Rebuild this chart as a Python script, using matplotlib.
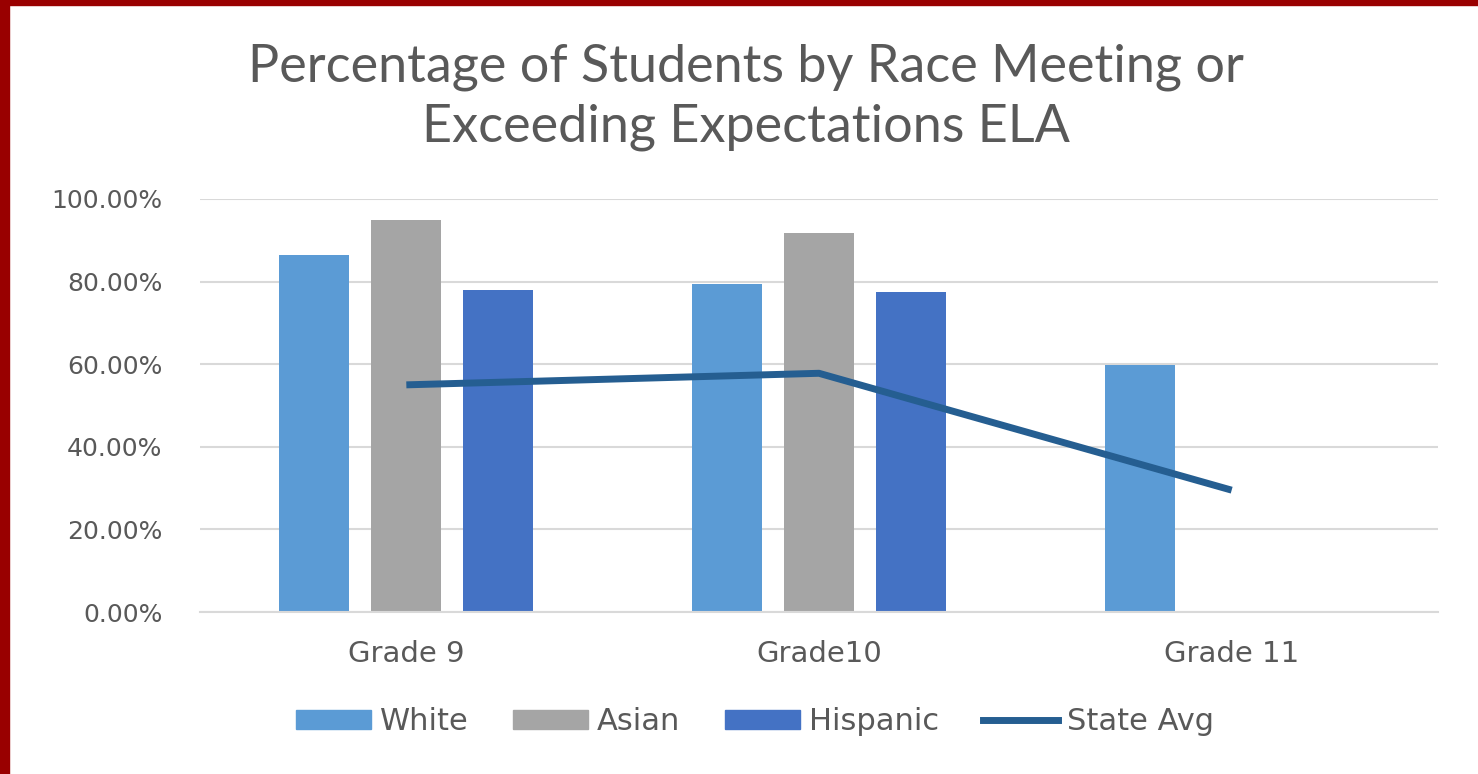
import numpy as np
import matplotlib
matplotlib.use("Agg")
from matplotlib import pyplot as plt
from matplotlib.patches import Rectangle, Patch
from matplotlib.lines import Line2D

grades = ["Grade 9", "Grade10", "Grade 11"]
white = [0.864, 0.794, 0.598]
asian = [0.949, 0.918, np.nan]
hispanic = [0.780, 0.775, np.nan]
state_avg = [0.550, 0.578, 0.295]

c_white = "#5B9BD5"
c_asian = "#A5A5A5"
c_hisp = "#4472C4"
c_line = "#255E91"
txt = "#595959"

plt.rcParams['font.family'] = ['DejaVu Sans']

fig = plt.figure(figsize=(14.78, 7.74), dpi=100)
fig.patch.set_facecolor("white")

# dark red frame on left and top
fig.patches.append(Rectangle((0, 0), 9 / 1478, 1, transform=fig.transFigure,
                             color="#990000", zorder=0))
fig.patches.append(Rectangle((0, 1 - 5 / 774), 1, 5 / 774, transform=fig.transFigure,
                             color="#990000", zorder=0))

ax = fig.add_axes([200 / 1478, 162 / 774, 1238 / 1478, 413 / 774])
x = np.arange(len(grades))
w = 0.17
step = 0.223
ax.bar(x - step, white, w, color=c_white, zorder=2)
ax.bar(x, asian, w, color=c_asian, zorder=2)
ax.bar(x + step, hispanic, w, color=c_hisp, zorder=2)
ax.plot(x, state_avg, color=c_line, lw=5, zorder=3, solid_capstyle="butt")

ax.set_xlim(-0.5, 2.5)
ax.set_ylim(0, 1.0)
ticks = np.arange(0, 1.01, 0.2)
ax.set_yticks(ticks)
ax.set_yticklabels([f"{v * 100:.2f}%" for v in ticks])
ax.set_xticks(x)
ax.set_xticklabels(grades)
ax.tick_params(axis="both", length=0, colors=txt)
ax.tick_params(axis="y", labelsize=18, pad=27)
ax.tick_params(axis="x", labelsize=21, pad=20)
ax.yaxis.grid(True, color="#D9D9D9", lw=1.5, zorder=0)
for s in ["top", "right", "left"]:
    ax.spines[s].set_visible(False)
ax.spines["bottom"].set_color("#D9D9D9")
ax.spines["bottom"].set_linewidth(1.5)

fig.text(746 / 1478, 1 - 97 / 774,
         "Percentage of Students by Race Meeting or\nExceeding Expectations ELA",
         ha="center", va="center", fontsize=37.5, color=txt, linespacing=1.33,
         family=["Lato", "DejaVu Sans"])

handles = [Patch(color=c_white, label="White"),
           Patch(color=c_asian, label="Asian"),
           Patch(color=c_hisp, label="Hispanic"),
           Line2D([0], [0], color=c_line, lw=5, label="State Avg")]
fig.legend(handles=handles, loc="center", bbox_to_anchor=(755 / 1478, 1 - 722 / 774),
           ncol=4, frameon=False, fontsize=22, handlelength=2.45, handleheight=0.55,
           columnspacing=1.45, handletextpad=0.3, labelcolor=txt)

fig.savefig("out.png", dpi=100, facecolor="white")
